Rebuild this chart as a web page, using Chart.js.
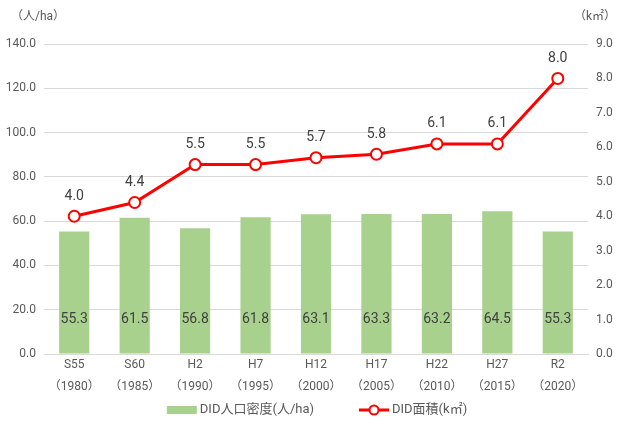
<!DOCTYPE html>
<html>
<head>
<meta charset="utf-8">
<script src="https://cdn.jsdelivr.net/npm/chart.js@4"></script>
<style>
  html, body { margin: 0; padding: 0; background: #fff; }
  #wrap { width: 626px; height: 423px; position: relative; }
</style>
</head>
<body>
<div id="wrap"><canvas id="didChart"></canvas></div>
<script>
// data
const eras = ['S55', 'S60', 'H2', 'H7', 'H12', 'H17', 'H22', 'H27', 'R2'];
const years = ['1980', '1985', '1990', '1995', '2000', '2005', '2010', '2015', '2020'];
const density = [55.3, 61.5, 56.8, 61.8, 63.1, 63.3, 63.2, 64.5, 55.3];
const area = [4.0, 4.4, 5.5, 5.5, 5.7, 5.8, 6.1, 6.1, 8.0];
const densityLabel = 'DID人口密度(人/ha)';
const areaLabel = 'DID面積(k㎡)';
const leftTitle = '（人/ha）';
const rightTitle = '（k㎡）';

const FONT = "Roboto, 'Noto Sans CJK JP', sans-serif";
const TEXT = '#595959';
const BAR = '#a9d18e';
const LINE = '#ff0000';

const labels = eras.map((e, i) => [e, '（' + years[i] + '）']);

// value labels, axis unit titles and the bottom legend
const labelPlugin = {
    id: 'valueLabels',
    afterDatasetsDraw(chart) {
        const ctx = chart.ctx;
        ctx.save();
        ctx.font = '14px ' + FONT;
        ctx.fillStyle = '#404040';
        ctx.textAlign = 'center';
        ctx.textBaseline = 'middle';
        // dataset 1 is the bars, dataset 0 the line
        chart.getDatasetMeta(1).data.forEach((bar, i) => {
            ctx.fillText(density[i].toFixed(1), bar.x, bar.base - 34);
        });
        chart.getDatasetMeta(0).data.forEach((pt, i) => {
            ctx.fillText(area[i].toFixed(1), pt.x, pt.y - 20);
        });
        ctx.font = '12px ' + FONT;
        ctx.fillStyle = TEXT;
        ctx.fillText(leftTitle, 38, 17);
        ctx.fillText(rightTitle, 595, 17);

        // legend
        ctx.font = '13px ' + FONT;
        ctx.textAlign = 'left';
        const sw = 30, gap = 3, between = 45, y = 410;
        const w1 = ctx.measureText(densityLabel).width;
        const w2 = ctx.measureText(areaLabel).width;
        let x = (chart.width - (sw + gap + w1 + between + sw + gap + w2)) / 2 + 4;
        ctx.fillStyle = BAR;
        ctx.fillRect(x, y - 4, sw, 8);
        ctx.fillStyle = TEXT;
        ctx.fillText(densityLabel, x + sw + gap, y);
        x += sw + gap + w1 + between;
        ctx.strokeStyle = LINE;
        ctx.lineWidth = 3;
        ctx.beginPath(); ctx.moveTo(x, y); ctx.lineTo(x + sw, y); ctx.stroke();
        ctx.fillStyle = '#fff';
        ctx.lineWidth = 2;
        ctx.beginPath(); ctx.arc(x + sw / 2, y, 4.5, 0, Math.PI * 2); ctx.fill(); ctx.stroke();
        ctx.fillStyle = TEXT;
        ctx.fillText(areaLabel, x + sw + gap, y);
        ctx.restore();
    }
};

new Chart(document.getElementById('didChart'), {
    data: {
        labels: labels,
        datasets: [
            {
                type: 'line',
                label: areaLabel,
                data: area,
                yAxisID: 'yR',
                borderColor: LINE,
                borderWidth: 3,
                pointRadius: 5.5,
                pointBorderWidth: 2,
                pointBackgroundColor: '#ffffff',
                pointBorderColor: LINE,
                tension: 0,
                order: 0
            },
            {
                type: 'bar',
                label: densityLabel,
                data: density,
                yAxisID: 'yL',
                backgroundColor: BAR,
                categoryPercentage: 1,
                barPercentage: 0.5,
                order: 1
            }
        ]
    },
    options: {
        responsive: true,
        maintainAspectRatio: false,
        animation: false,
        layout: { padding: { top: 44, left: 0, right: 0, bottom: 25 } },
        plugins: {
            tooltip: { enabled: false },
            legend: { display: false }
        },
        scales: {
            x: {
                grid: { display: false, drawTicks: false },
                border: { color: '#d9d9d9' },
                ticks: { color: TEXT, font: { family: FONT, size: 12, lineHeight: 1.83 }, maxRotation: 0, padding: 0 }
            },
            yL: {
                position: 'left',
                min: 0, max: 140,
                afterFit: s => { s.width = 44; },
                ticks: { stepSize: 20, color: TEXT, font: { family: FONT, size: 12 }, padding: 8,
                    callback: v => v.toFixed(1) },
                grid: { color: '#d9d9d9', drawTicks: false },
                border: { display: false }
            },
            yR: {
                position: 'right',
                min: 0, max: 9,
                afterFit: s => { s.width = 38; },
                ticks: { stepSize: 1, color: TEXT, font: { family: FONT, size: 12 }, padding: 8,
                    callback: v => v.toFixed(1) },
                grid: { display: false, drawTicks: false },
                border: { display: false }
            }
        }
    },
    plugins: [labelPlugin]
});
</script>
</body>
</html>
